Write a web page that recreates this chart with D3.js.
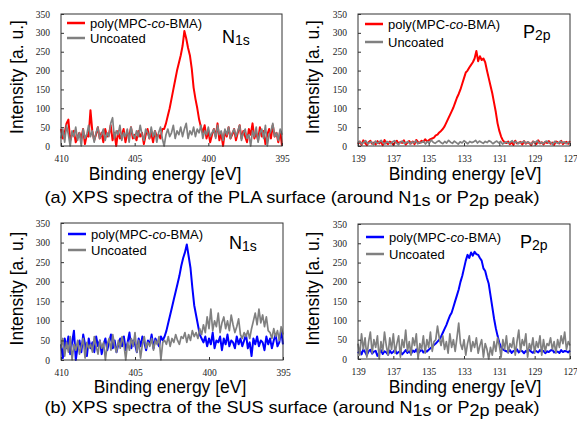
<!DOCTYPE html>
<html>
<head>
<meta charset="utf-8">
<script src="https://cdn.jsdelivr.net/npm/d3@7"></script>
<style>
  body { margin: 0; background: #fff; }
  svg text { font-family: "Liberation Sans", Arial, sans-serif; fill: #000; }
  .tick text { font-family: "Liberation Serif", "Times New Roman", serif; font-size: 9.5px; fill: #222; }
</style>
</head>
<body>
<div id="wrapper"></div>
<script>
// x ranges and ticks
const n1sRange = [410, 395]
const p2pRange = [139, 127]
const n1sTicks = [410, 405, 400, 395]
const p2pTicks = [139, 137, 135, 133, 131, 129, 127]
const yTicks = [0, 50, 100, 150, 200, 250, 300, 350]
const seriesNames = ["poly(MPC-co-BMA)", "Uncoated"]
const captions = [
  ["(a) XPS spectra of the PLA surface (around N", "1s", " or P", "2p", " peak)"],
  ["(b) XPS spectra of the SUS surface (around N", "1s", " or P", "2p", " peak)"],
]

// (a) PLA, N1s
const plaN1sCoated = [
  45,20,35,60,70,15,30,40,10,25,35,20,45,5,30,25,
  95,
  40,15,30,50,20,35,10,45,25,30,55,15,35,0,40,20,30,45,10,35,25,50,20,30,
  15,40,25,35,5,30,45,20,35,10,40,25,30,20,45,
  45,60,80,100,125,150,175,200,220,240,265,305,285,260,240,205,155,125,100,70,50,
  35,55,20,40,10,30,45,25,60,15,35,0,40,25,50,20,30,45,15,35,55,20,40,25,10,45,30,60,20,35,15,50,25,40,5,30,45,20,55,25,35,10,40,0
]
const plaN1sUncoated = [
  20,45,10,55,30,0,40,25,50,15, 35,0,45,20,30,55,25,40,10,35,
  50,20,30,45,15,35,25,60,75,20, 40,30,55,15,35,25,45,10,50,30,
  20,40,25,55,30,15,45,35,20,50, 25,40,10,35,50,20,0,30,45,25,
  35,55,20,40,30,50,25,45,60,20, 40,30,50,25,45,35,55,20,40,30,
  50,25,35,45,20,55,30,40,15,45, 30,50,20,35,45,25,40,55,15,35,
  45,20,30,0,40,25,50,10,35,45, 20,55,0,30,40,60,25,35,15,45, 30
]

// (a) PLA, P2p
const plaP2pCoated = [
  5,12,3,15,8,2,10,14,6,9, 4,13,7,11,2,16,8,5,12,9, 3,10,14,6,11,8,15,4,9,13, 7,12,5,16,10,8,14,11,18,12,
  15,
  18,20,22,28,30,36,40,45,52,62,72,82,92,102,115,128,138,150,165,180,195,200,208,215,222,232,252,225,238,228,232,222,200,180,160,140,115,90,60,40,25,15,10,
  8,12,5,10,3,14,7,9,11,4, 13,6,10,8,2,12,9,5,15,7, 10,4,11,8,13,6,9,3,12,10, 7,14,5,9,11,6,13
]
const plaP2pUncoated = [
  8,12,5,10,14,6,9,11,4,13, 7,10,15,8,5,12,9,6,11,14, 8,4,10,13,7,9,12,5,11,8,
  14,6,10,9,13,5,12,8,16,10, 7,11,14,9,6,12,8,15,10,7, 13,9,5,11,8,14,10,6,12,9,
  11,15,8,13,10,7,12,9,14,11, 6,10,13,8,12,5,9,11,7,10, 14,8,12,6,10,9,13,7,11,8,
  5,12,9,14,7,10,6,11,13,8, 10,4,12,9,7,13,8,11,6,10, 9
]

// (b) SUS, N1s
const susN1sCoated = [
  40,5,55,30,60,15,45,75,0,35,50,20,65,40,10,55,
  30,45,20,60,35,50,15,40,55,25,45,65,30,50,20,40,
  55,35,60,25,45,70,30,50,40,20,55,35,60,45,25,50,
  40,65,30,55,45,35,60,50,
  60,75,95,115,135,155,175,195,215,240,260,275,295,265,235,185,140,115,90,65,55,
  45,60,35,55,40,70,30,50,45,60, 25,55,40,65,35,50,45,30,60,40,
  55,35,50,65,30,45,10,55,40,60, 35,50,45,25,60,40,55,30,50,65, 35,45,75,40
]
const susN1sUncoated = [
  30,55,10,45,20,60,0,40,25,50,15,35,55,5,45,30,
  40,20,60,35,15,50,30,45,0,40,55,25,65,35,20,50,
  30,60,40,0,45,25,55,35,70,20,50,5,40,60,30,45,
  35,55,25,50,40,60,0,45,
  50,40,60,35,55,45,65,50,40,60,55,70,45,65,50,75,60,70,55,80,65,
  90,70,110,80,130,75,100,85,120,70,95,110,80,100,75,115,90,70,85,105,
  65,55,70,60,75,55,80,
  100,120,90,130,95,115,85,110,75,
  70,55,80,60,75,50,85,65
]

// (b) SUS, P2p
const susP2pCoated = [
  15,22,12,25,18,10,20,24,14,19, 21,8,16,23,13,20,17,11,22,15, 19,24,14,18,21,12,17,23,16,20,
  13,22,18,25,15,20,24,17,22,19, 24,
  28,32,36,40,45,50,58,68,78,88,100,112,120,135,150,165,180,200,215,235,255,270,262,276,268,278,272,270,262,255,235,228,210,195,165,135,105,80,60,42,30,25,22,
  20,18,23,16,21,19,25,17,22,20, 15,21,18,24,19,16,22,20,17,23, 19,21,15,20,18,22,24,17,20,19, 16,23,18,21,20,17,22
]
const susP2pUncoated = [
  40,10,65,25,55,5,45,70,15,50, 30,60,0,45,20,70,35,10,55,25,
  65,15,40,60,5,50,30,75,20,45, 10,55,35,65,0,40,25,60,15,50,
  30,70,20,45,50,85,55,35,60,25, 45,15,65,30,50,20,55,93,40,25,
  50,10,40,60,20,45,30,55,15,35, 50,5,40,25,0,30,10,45,20,55,
  35,5,50,25,60,15,40,30,55,10, 45,75,20,50,35,65,5,40,25,55,
  15,45,30,60,10,50,20,40,35,55, 25,45,15,50,30,60,40,70,25,45, 35
]

// 1. Chart dimensions
const dimensions = { width: 577, height: 421 }

const panels = [
  { box: [61, 282, 14, 146], range: n1sRange, ticks: n1sTicks, coated: plaN1sCoated, uncoated: plaN1sUncoated,
    color: "#ff0000", peak: ["N", "1s"], peakPos: [222, 43], yTitleX: 17, xTitle: [165, 180], legend: [6, 29, 9, 24] },
  { box: [358, 570, 14, 146], range: p2pRange, ticks: p2pTicks, coated: plaP2pCoated, uncoated: plaP2pUncoated,
    color: "#ff0000", peak: ["P", "2p"], peakPos: [523, 38], yTitleX: 313, xTitle: [465, 180], legend: [7, 30, 10, 28] },
  { box: [61, 283, 223, 360], range: n1sRange, ticks: n1sTicks, coated: susN1sCoated, uncoated: susN1sUncoated,
    color: "#0000ff", peak: ["N", "1s"], peakPos: [229, 249], yTitleX: 17, xTitle: [170, 393], legend: [7, 30, 11, 27] },
  { box: [358, 570, 224, 359], range: p2pRange, ticks: p2pTicks, coated: susP2pCoated, uncoated: susP2pUncoated,
    color: "#0000ff", peak: ["P", "2p"], peakPos: [520, 248], yTitleX: 313, xTitle: [465, 393], legend: [8, 31, 13, 30] },
]

// 2. Draw canvas
const svg = d3.select("#wrapper")
  .append("svg")
    .attr("width", dimensions.width)
    .attr("height", dimensions.height)

svg.append("rect")
    .attr("width", dimensions.width)
    .attr("height", dimensions.height)
    .attr("fill", "#fff")

const energies = (range, n) => d3.range(n).map(i => range[0] + (range[1] - range[0]) * i / (n - 1))

panels.forEach(p => {
  const [left, right, top, bottom] = p.box

  // 3. Scales
  const xScale = d3.scaleLinear().domain(p.range).range([left, right])
  const yScale = d3.scaleLinear().domain([0, 350]).range([bottom, top])

  const lineGenerator = d3.line()
    .x(d => xScale(d[0]))
    .y(d => yScale(d[1]))

  const toPoints = values => {
    const e = energies(p.range, values.length)
    return values.map((v, i) => [e[i], v])
  }

  // 4. Data
  svg.append("path")
      .attr("d", lineGenerator(toPoints(p.coated)))
      .attr("fill", "none")
      .attr("stroke", p.color)
      .attr("stroke-width", 2)
      .attr("stroke-linejoin", "round")

  svg.append("path")
      .attr("d", lineGenerator(toPoints(p.uncoated)))
      .attr("fill", "none")
      .attr("stroke", "#808080")
      .attr("stroke-width", 1.7)
      .attr("stroke-linejoin", "round")

  // 5. Peripherals
  svg.append("rect")
      .attr("x", left)
      .attr("y", top)
      .attr("width", right - left)
      .attr("height", bottom - top)
      .attr("fill", "none")
      .attr("stroke", "#333")
      .attr("stroke-width", 1)

  const xAxis = svg.append("g")
      .attr("transform", `translate(0, ${bottom})`)
      .call(d3.axisBottom(xScale).tickValues(p.ticks).tickSize(-3).tickPadding(9).tickFormat(d3.format("d")))
  xAxis.select(".domain").remove()
  xAxis.selectAll(".tick line").attr("stroke", "#333")

  const yAxis = svg.append("g")
      .attr("transform", `translate(${left}, 0)`)
      .call(d3.axisLeft(yScale).tickValues(yTicks).tickSize(-3).tickPadding(11))
  yAxis.select(".domain").remove()
  yAxis.selectAll(".tick line").attr("stroke", "#333")

  svg.append("text")
      .attr("x", p.xTitle[0])
      .attr("y", p.xTitle[1])
      .attr("text-anchor", "middle")
      .style("font-size", "17.5px")
      .text("Binding energy [eV]")

  svg.append("text")
      .attr("transform", `translate(${p.yTitleX + 6}, ${(top + bottom) / 2 - 3}) rotate(-90)`)
      .attr("text-anchor", "middle")
      .style("font-size", "17.5px")
      .text("Intensity [a. u.]")

  // legend
  const [lx0, tx, ly1, ly2] = p.legend
  const colors = [p.color, "#808080"]
  ;[ly1, ly2].forEach((ly, i) => {
    svg.append("line")
        .attr("x1", left + lx0)
        .attr("x2", left + lx0 + 18)
        .attr("y1", top + ly)
        .attr("y2", top + ly)
        .attr("stroke", colors[i])
        .attr("stroke-width", 2.5)
    const t = svg.append("text")
        .attr("x", left + tx)
        .attr("y", top + ly + 4.5)
        .style("font-size", "13px")
    if (i === 0) {
      t.append("tspan").text("poly(MPC-")
      t.append("tspan").style("font-style", "italic").text("co")
      t.append("tspan").text("-BMA)")
    } else {
      t.text(seriesNames[1])
    }
  })

  const peakLabel = svg.append("text")
      .attr("x", p.peakPos[0])
      .attr("y", p.peakPos[1])
      .style("font-size", "18px")
  peakLabel.append("tspan").text(p.peak[0])
  peakLabel.append("tspan").attr("dy", 2).style("font-size", "14px").text(p.peak[1])
})

// captions
const captionY = [203, 413]
captions.forEach((parts, i) => {
  const t = svg.append("text")
      .attr("x", 292)
      .attr("y", captionY[i])
      .attr("text-anchor", "middle")
      .attr("textLength", 495)
      .attr("lengthAdjust", "spacingAndGlyphs")
      .style("font-size", "17px")
  parts.forEach((s, j) => {
    const sub = j === 1 || j === 3
    t.append("tspan")
        .attr("dy", sub ? 2.5 : (j === 0 ? 0 : -2.5))
        .text(s)
  })
})
</script>
</body>
</html>
